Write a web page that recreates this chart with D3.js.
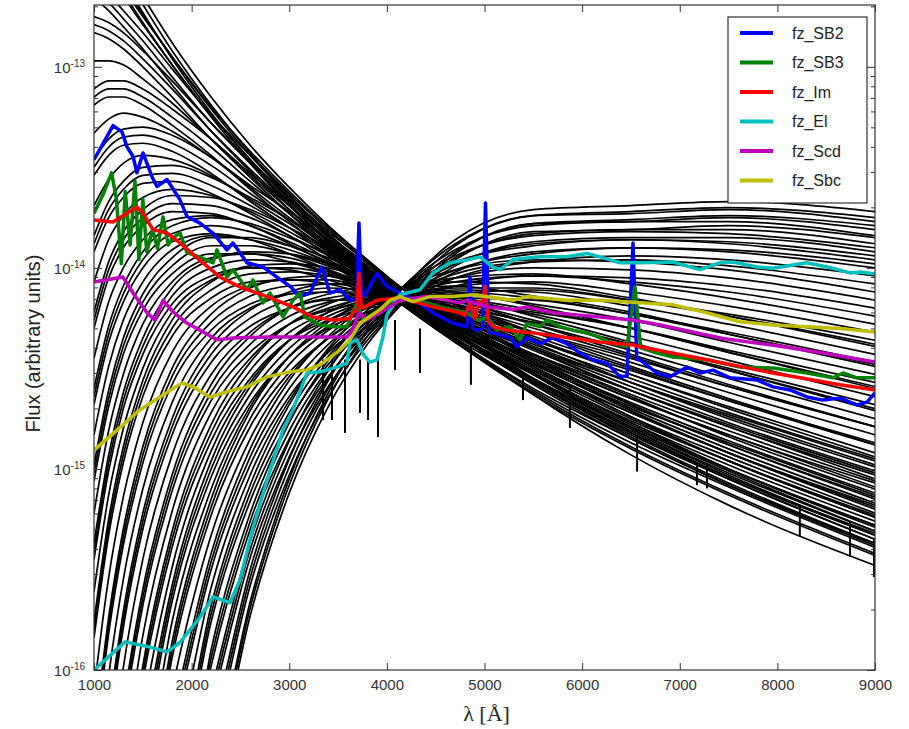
<!DOCTYPE html>
<html>
<head>
<meta charset="utf-8">
<script src="https://cdn.jsdelivr.net/npm/d3@7"></script>
<style>
  body { margin: 0; background: #fff; }
  svg { font-family: "Liberation Sans", Arial, sans-serif; }
  .tick line { stroke: #333; }
  .tick text { fill: #333; }
</style>
</head>
<body>
<script>
// axes
var xTicks = [1000, 2000, 3000, 4000, 5000, 6000, 7000, 8000, 9000];
var yDecades = [1e-16, 1e-15, 1e-14, 1e-13];
var yDecadeExp = ["-16", "-15", "-14", "-13"];

// stellar library spectra, hot to cool: log10(flux) sampled at starWave
var starWave = [1000, 1150, 1300, 1500, 1800, 2200, 2600, 3000, 3400, 3800, 4150, 4700, 5500, 6500, 7500, 9000];
var starLogFlux = [
  [-12.31, -12.44, -12.57, -12.73, -12.96, -13.23, -13.47, -13.68, -13.87, -14.04, -14.18, -14.37, -14.63, -14.90, -15.13, -15.43],
  [-12.23, -12.36, -12.49, -12.65, -12.88, -13.15, -13.39, -13.60, -13.79, -13.96, -14.10, -14.29, -14.55, -14.82, -15.05, -15.35],
  [-12.27, -12.40, -12.53, -12.69, -12.92, -13.19, -13.43, -13.64, -13.83, -14.00, -14.14, -14.35, -14.63, -14.93, -15.18, -15.48],
  [-12.36, -12.47, -12.59, -12.74, -12.95, -13.21, -13.44, -13.65, -13.83, -14.00, -14.14, -14.33, -14.58, -14.85, -15.08, -15.38],
  [-12.40, -12.51, -12.63, -12.78, -12.99, -13.25, -13.48, -13.69, -13.87, -14.04, -14.18, -14.37, -14.62, -14.89, -15.12, -15.42],
  [-12.46, -12.55, -12.65, -12.79, -12.99, -13.24, -13.46, -13.66, -13.84, -14.00, -14.14, -14.33, -14.57, -14.84, -15.07, -15.37],
  [-12.42, -12.51, -12.61, -12.75, -12.95, -13.20, -13.42, -13.62, -13.80, -13.96, -14.10, -14.29, -14.53, -14.80, -15.03, -15.33],
  [-12.66, -12.72, -12.80, -12.91, -13.09, -13.32, -13.52, -13.71, -13.89, -14.05, -14.18, -14.36, -14.61, -14.87, -15.09, -15.39],
  [-12.62, -12.68, -12.76, -12.87, -13.05, -13.28, -13.48, -13.67, -13.85, -14.01, -14.14, -14.32, -14.57, -14.83, -15.05, -15.35],
  [-12.58, -12.64, -12.72, -12.83, -13.01, -13.24, -13.44, -13.63, -13.81, -13.97, -14.10, -14.28, -14.53, -14.79, -15.01, -15.31],
  [-12.83, -12.86, -12.91, -13.00, -13.15, -13.36, -13.55, -13.73, -13.90, -14.05, -14.18, -14.36, -14.60, -14.85, -15.08, -15.37],
  [-12.79, -12.82, -12.87, -12.96, -13.11, -13.32, -13.51, -13.69, -13.86, -14.01, -14.14, -14.32, -14.56, -14.81, -15.04, -15.33],
  [-12.75, -12.78, -12.83, -12.92, -13.07, -13.28, -13.47, -13.65, -13.82, -13.97, -14.10, -14.28, -14.52, -14.77, -15.00, -15.29],
  [-12.97, -12.97, -12.99, -13.06, -13.18, -13.36, -13.54, -13.71, -13.87, -14.02, -14.14, -14.32, -14.55, -14.80, -15.02, -15.31],
  [-13.19, -13.15, -13.15, -13.19, -13.29, -13.44, -13.61, -13.77, -13.92, -14.06, -14.18, -14.35, -14.57, -14.82, -15.04, -15.32],
  [-13.15, -13.11, -13.11, -13.15, -13.25, -13.40, -13.57, -13.73, -13.88, -14.02, -14.14, -14.31, -14.53, -14.78, -15.00, -15.28],
  [-13.11, -13.07, -13.07, -13.11, -13.21, -13.36, -13.53, -13.69, -13.84, -13.98, -14.10, -14.27, -14.49, -14.74, -14.96, -15.24],
  [-13.33, -13.26, -13.23, -13.25, -13.32, -13.45, -13.60, -13.75, -13.89, -14.03, -14.14, -14.31, -14.52, -14.77, -14.98, -15.26],
  [-13.54, -13.44, -13.39, -13.38, -13.42, -13.53, -13.67, -13.80, -13.94, -14.07, -14.18, -14.34, -14.55, -14.79, -15.00, -15.28],
  [-13.50, -13.40, -13.35, -13.34, -13.38, -13.49, -13.63, -13.76, -13.90, -14.03, -14.14, -14.30, -14.51, -14.75, -14.96, -15.24],
  [-13.46, -13.36, -13.31, -13.30, -13.34, -13.45, -13.59, -13.72, -13.86, -13.99, -14.10, -14.26, -14.47, -14.71, -14.92, -15.20],
  [-13.69, -13.56, -13.48, -13.44, -13.46, -13.54, -13.66, -13.78, -13.91, -14.04, -14.14, -14.30, -14.50, -14.74, -14.94, -15.22],
  [-13.92, -13.75, -13.65, -13.58, -13.57, -13.63, -13.73, -13.84, -13.96, -14.08, -14.18, -14.33, -14.53, -14.76, -14.96, -15.23],
  [-13.88, -13.71, -13.61, -13.54, -13.53, -13.59, -13.69, -13.80, -13.92, -14.04, -14.14, -14.29, -14.49, -14.72, -14.92, -15.19],
  [-13.84, -13.67, -13.57, -13.50, -13.49, -13.55, -13.65, -13.76, -13.88, -14.00, -14.10, -14.25, -14.45, -14.68, -14.88, -15.15],
  [-14.07, -13.86, -13.74, -13.65, -13.61, -13.64, -13.72, -13.82, -13.93, -14.05, -14.14, -14.29, -14.48, -14.70, -14.90, -15.17],
  [-14.30, -14.05, -13.90, -13.79, -13.72, -13.73, -13.79, -13.88, -13.98, -14.09, -14.18, -14.32, -14.51, -14.72, -14.92, -15.18],
  [-14.26, -14.01, -13.86, -13.75, -13.68, -13.69, -13.75, -13.84, -13.94, -14.05, -14.14, -14.28, -14.47, -14.68, -14.88, -15.14],
  [-14.22, -13.97, -13.82, -13.71, -13.64, -13.65, -13.71, -13.80, -13.90, -14.01, -14.10, -14.24, -14.43, -14.64, -14.84, -15.10],
  [-14.45, -14.17, -14.00, -13.86, -13.76, -13.74, -13.79, -13.87, -13.96, -14.06, -14.14, -14.27, -14.46, -14.67, -14.86, -15.12],
  [-14.68, -14.37, -14.17, -14.00, -13.87, -13.83, -13.86, -13.93, -14.01, -14.10, -14.18, -14.30, -14.48, -14.69, -14.87, -15.13],
  [-14.64, -14.33, -14.13, -13.96, -13.83, -13.79, -13.82, -13.89, -13.97, -14.06, -14.14, -14.26, -14.44, -14.65, -14.83, -15.09],
  [-14.60, -14.29, -14.09, -13.92, -13.79, -13.75, -13.78, -13.85, -13.93, -14.02, -14.10, -14.22, -14.40, -14.61, -14.79, -15.05],
  [-14.83, -14.49, -14.26, -14.07, -13.91, -13.84, -13.86, -13.91, -13.98, -14.07, -14.14, -14.26, -14.43, -14.63, -14.81, -15.06],
  [-15.06, -14.69, -14.43, -14.21, -14.03, -13.93, -13.93, -13.97, -14.03, -14.11, -14.18, -14.29, -14.45, -14.65, -14.83, -15.07],
  [-15.02, -14.65, -14.39, -14.17, -13.99, -13.89, -13.89, -13.93, -13.99, -14.07, -14.14, -14.25, -14.41, -14.61, -14.79, -15.03],
  [-14.98, -14.61, -14.35, -14.13, -13.95, -13.85, -13.85, -13.89, -13.95, -14.03, -14.10, -14.21, -14.37, -14.57, -14.75, -14.99],
  [-15.22, -14.81, -14.53, -14.28, -14.07, -13.95, -13.93, -13.95, -14.01, -14.08, -14.14, -14.25, -14.40, -14.59, -14.77, -15.01],
  [-15.45, -15.01, -14.70, -14.43, -14.18, -14.04, -14.00, -14.01, -14.06, -14.12, -14.18, -14.28, -14.43, -14.61, -14.78, -15.02],
  [-15.41, -14.97, -14.66, -14.39, -14.14, -14.00, -13.96, -13.97, -14.02, -14.08, -14.14, -14.24, -14.39, -14.57, -14.74, -14.98],
  [-15.37, -14.93, -14.62, -14.35, -14.10, -13.96, -13.92, -13.93, -13.98, -14.04, -14.10, -14.20, -14.35, -14.53, -14.70, -14.94],
  [-15.61, -15.13, -14.80, -14.50, -14.22, -14.06, -14.00, -14.00, -14.03, -14.09, -14.14, -14.23, -14.38, -14.55, -14.72, -14.95],
  [-15.84, -15.33, -14.97, -14.64, -14.34, -14.15, -14.07, -14.06, -14.08, -14.13, -14.18, -14.26, -14.40, -14.57, -14.73, -14.96],
  [-15.80, -15.29, -14.93, -14.60, -14.30, -14.11, -14.03, -14.02, -14.04, -14.09, -14.14, -14.22, -14.36, -14.53, -14.69, -14.92],
  [-15.76, -15.25, -14.89, -14.56, -14.26, -14.07, -13.99, -13.98, -14.00, -14.05, -14.10, -14.18, -14.32, -14.49, -14.65, -14.88],
  [-16.10, -15.54, -15.14, -14.77, -14.42, -14.19, -14.09, -14.06, -14.06, -14.10, -14.14, -14.21, -14.34, -14.50, -14.66, -14.88],
  [-16.43, -15.82, -15.38, -14.97, -14.58, -14.31, -14.18, -14.13, -14.12, -14.14, -14.18, -14.24, -14.36, -14.51, -14.66, -14.87],
  [-16.39, -15.78, -15.34, -14.93, -14.54, -14.27, -14.14, -14.09, -14.08, -14.10, -14.14, -14.20, -14.32, -14.47, -14.62, -14.83],
  [-16.35, -15.74, -15.30, -14.89, -14.50, -14.23, -14.10, -14.05, -14.04, -14.06, -14.10, -14.16, -14.28, -14.43, -14.58, -14.79],
  [-16.69, -16.03, -15.55, -15.10, -14.67, -14.35, -14.20, -14.13, -14.10, -14.11, -14.14, -14.19, -14.30, -14.44, -14.59, -14.79],
  [-17.00, -16.31, -15.79, -15.30, -14.83, -14.47, -14.29, -14.20, -14.16, -14.16, -14.18, -14.22, -14.32, -14.45, -14.59, -14.79],
  [-16.98, -16.27, -15.75, -15.26, -14.79, -14.43, -14.25, -14.16, -14.12, -14.12, -14.14, -14.18, -14.28, -14.41, -14.55, -14.75],
  [-16.94, -16.23, -15.71, -15.22, -14.75, -14.39, -14.21, -14.12, -14.08, -14.08, -14.10, -14.14, -14.24, -14.37, -14.51, -14.71],
  [-17.00, -16.55, -15.99, -15.45, -14.93, -14.53, -14.32, -14.20, -14.15, -14.13, -14.14, -14.17, -14.26, -14.38, -14.51, -14.70],
  [-17.00, -16.87, -16.26, -15.68, -15.11, -14.66, -14.42, -14.28, -14.21, -14.18, -14.18, -14.20, -14.27, -14.38, -14.50, -14.68],
  [-17.00, -16.83, -16.22, -15.64, -15.07, -14.62, -14.38, -14.24, -14.17, -14.14, -14.14, -14.16, -14.23, -14.34, -14.46, -14.64],
  [-17.00, -16.79, -16.18, -15.60, -15.03, -14.58, -14.34, -14.20, -14.13, -14.10, -14.10, -14.12, -14.19, -14.30, -14.42, -14.60],
  [-17.00, -16.92, -16.46, -15.83, -15.21, -14.72, -14.45, -14.28, -14.20, -14.15, -14.14, -14.15, -14.21, -14.30, -14.42, -14.59],
  [-17.00, -17.00, -16.74, -16.06, -15.39, -14.86, -14.55, -14.36, -14.26, -14.20, -14.18, -14.17, -14.22, -14.30, -14.41, -14.57],
  [-17.00, -17.00, -16.70, -16.02, -15.35, -14.82, -14.51, -14.32, -14.22, -14.16, -14.14, -14.13, -14.18, -14.26, -14.37, -14.53],
  [-17.00, -17.00, -16.66, -15.98, -15.31, -14.78, -14.47, -14.28, -14.18, -14.12, -14.10, -14.09, -14.14, -14.22, -14.33, -14.49],
  [-17.00, -17.00, -16.85, -16.21, -15.49, -14.91, -14.57, -14.36, -14.24, -14.17, -14.14, -14.12, -14.15, -14.23, -14.33, -14.48],
  [-17.00, -17.00, -17.00, -16.43, -15.66, -15.04, -14.67, -14.44, -14.30, -14.22, -14.18, -14.15, -14.16, -14.23, -14.32, -14.47],
  [-17.00, -17.00, -17.00, -16.39, -15.62, -15.00, -14.63, -14.40, -14.26, -14.18, -14.14, -14.11, -14.12, -14.19, -14.28, -14.43],
  [-17.00, -17.00, -17.00, -16.35, -15.58, -14.96, -14.59, -14.36, -14.22, -14.14, -14.10, -14.07, -14.08, -14.15, -14.24, -14.39],
  [-17.00, -17.00, -17.00, -16.58, -15.76, -15.10, -14.69, -14.44, -14.29, -14.19, -14.14, -14.10, -14.10, -14.16, -14.24, -14.38],
  [-17.00, -17.00, -17.00, -16.80, -15.94, -15.23, -14.79, -14.52, -14.35, -14.24, -14.18, -14.13, -14.11, -14.16, -14.23, -14.36],
  [-17.00, -17.00, -17.00, -16.76, -15.90, -15.19, -14.75, -14.48, -14.31, -14.20, -14.14, -14.09, -14.07, -14.12, -14.19, -14.32],
  [-17.00, -17.00, -17.00, -16.72, -15.86, -15.15, -14.71, -14.44, -14.27, -14.16, -14.10, -14.05, -14.03, -14.08, -14.15, -14.28],
  [-17.00, -17.00, -17.00, -16.88, -16.10, -15.33, -14.85, -14.54, -14.35, -14.22, -14.14, -14.07, -14.04, -14.07, -14.12, -14.24],
  [-17.00, -17.00, -17.00, -17.00, -16.33, -15.50, -14.98, -14.64, -14.42, -14.27, -14.18, -14.09, -14.04, -14.05, -14.09, -14.20],
  [-17.00, -17.00, -17.00, -17.00, -16.29, -15.46, -14.94, -14.60, -14.38, -14.23, -14.14, -14.05, -14.00, -14.01, -14.05, -14.16],
  [-17.00, -17.00, -17.00, -17.00, -16.25, -15.42, -14.90, -14.56, -14.34, -14.19, -14.10, -14.01, -13.96, -13.97, -14.01, -14.12],
  [-17.00, -17.00, -17.00, -17.00, -16.49, -15.59, -15.03, -14.66, -14.41, -14.24, -14.14, -14.03, -13.97, -13.96, -13.99, -14.08],
  [-17.00, -17.00, -17.00, -17.00, -16.73, -15.76, -15.16, -14.76, -14.48, -14.29, -14.18, -14.05, -13.97, -13.94, -13.96, -14.04],
  [-17.00, -17.00, -17.00, -17.00, -16.69, -15.72, -15.12, -14.72, -14.44, -14.25, -14.14, -14.01, -13.93, -13.90, -13.92, -14.00],
  [-17.00, -17.00, -17.00, -17.00, -16.65, -15.68, -15.08, -14.68, -14.40, -14.21, -14.10, -13.97, -13.89, -13.86, -13.88, -13.96],
  [-17.00, -17.00, -17.00, -17.00, -17.00, -15.98, -15.30, -14.85, -14.54, -14.32, -14.18, -14.02, -13.92, -13.90, -13.91, -13.98],
  [-17.00, -17.00, -17.00, -17.00, -17.00, -15.94, -15.26, -14.81, -14.50, -14.28, -14.14, -13.98, -13.88, -13.86, -13.87, -13.94],
  [-17.00, -17.00, -17.00, -17.00, -17.00, -15.90, -15.22, -14.77, -14.46, -14.24, -14.10, -13.94, -13.84, -13.82, -13.83, -13.90],
  [-17.00, -17.00, -17.00, -17.00, -17.00, -16.19, -15.44, -14.94, -14.59, -14.34, -14.18, -13.99, -13.87, -13.85, -13.85, -13.92],
  [-17.00, -17.00, -17.00, -17.00, -17.00, -16.15, -15.40, -14.90, -14.55, -14.30, -14.14, -13.95, -13.83, -13.81, -13.81, -13.88],
  [-17.00, -17.00, -17.00, -17.00, -17.00, -16.11, -15.36, -14.86, -14.51, -14.26, -14.10, -13.91, -13.79, -13.77, -13.77, -13.84],
  [-17.00, -17.00, -17.00, -17.00, -17.00, -16.40, -15.58, -15.03, -14.64, -14.36, -14.18, -13.96, -13.82, -13.81, -13.79, -13.85],
  [-17.00, -17.00, -17.00, -17.00, -17.00, -16.36, -15.54, -14.99, -14.60, -14.32, -14.14, -13.92, -13.78, -13.77, -13.75, -13.81],
  [-17.00, -17.00, -17.00, -17.00, -17.00, -16.32, -15.50, -14.95, -14.56, -14.28, -14.10, -13.88, -13.74, -13.73, -13.71, -13.77],
  [-17.00, -17.00, -17.00, -17.00, -17.00, -16.61, -15.73, -15.12, -14.69, -14.38, -14.18, -13.93, -13.78, -13.76, -13.74, -13.79],
  [-17.00, -17.00, -17.00, -17.00, -17.00, -16.57, -15.69, -15.08, -14.65, -14.34, -14.14, -13.89, -13.74, -13.72, -13.70, -13.75],
  [-17.00, -17.00, -17.00, -17.00, -17.00, -16.54, -15.66, -15.05, -14.62, -14.31, -14.11, -13.86, -13.71, -13.69, -13.67, -13.72]
];

// strong absorption lines hanging below the stellar envelope (flux in units of 1e-15)
var absorbWave   = [3346, 3438, 3571, 3725, 3807, 3909, 4083, 4339, 4861, 5394, 5875, 6563, 7176, 7279, 8230, 8744, 8990];
var absorbTop    = [3.5, 3.5, 3.5, 3.5, 3.5, 3.5, 5.5, 5.0, 4.2, 3.0, 2.6, 1.45, 1.05, 1.05, 0.65, 0.55, 0.45];
var absorbBottom = [1.75, 1.75, 1.51, 1.90, 1.75, 1.44, 3.11, 3.0, 2.62, 2.2, 1.6, 0.97, 0.83, 0.80, 0.46, 0.365, 0.29];

// galaxy templates, flux in units of 1e-15
var FLUX_UNIT = 1e-15;

var sb2Wave = [1000,1195,1287,1338,1400,1440,1502,1594,1645,1748,1881,1953,2086,2219,2362,2424,2567,2731,2874,3008,3110,3212,3335,3417,3520,3622,3690,3714,3740,3776,3899,4001,4134,4339,4472,4677,4820,4851,4880,4923,4980,5010,5045,5087,5261,5333,5435,5568,5702,5845,5978,6111,6255,6388,6460,6521,6560,6593,6767,6900,7074,7207,7340,7515,7791,7955,8129,8303,8467,8641,8815,8918,9000];
var sb2Flux = [34.5,51,47.5,40,35.8,29.7,37.3,28.4,25.4,27.5,21.8,18,16.7,14.9,12.3,13.3,10.6,10.1,9.0,8.1,7.2,7.5,10.1,7.5,7.8,6.9,7.0,16.7,7.2,7.3,9.4,8.1,7.5,6.7,5.98,5.3,5.1,9.0,5.0,4.9,5.0,21,4.8,4.75,4.5,4.05,4.5,4.2,4.5,4.2,3.77,3.48,3.36,2.87,2.9,13.3,3.5,3.49,3.0,2.87,3.21,3.0,3.1,2.84,2.77,2.56,2.47,2.28,2.2,2.25,2.08,2.15,2.39];

var sb3Wave = [1000,1100,1180,1230,1280,1320,1370,1420,1460,1500,1540,1600,1650,1707,1760,1800,1881,1953,2086,2219,2260,2362,2424,2567,2628,2731,2803,2936,3038,3110,3161,3315,3448,3591,3694,3755,3899,4062,4250,4411,4544,4820,4882,4954,5025,5128,5261,5364,5435,5568,5640,5773,5906,6050,6183,6316,6460,6541,6600,6767,6931,7279,7617,7955,8303,8570,8672,8815,9000];
var sb3Flux = [18.7,23.6,29.7,22,10.5,24,13,27,11,22,12,15.5,12.5,17.9,13,14,14.9,11.9,11.3,10.6,12.3,9.0,9.8,7.8,8.7,6.7,7.5,5.7,6.9,7.5,5.7,5.2,5.1,5.1,6.7,5.5,6.05,6.9,7.0,6.7,6.4,5.98,5.7,5.5,5.7,4.9,5.1,4.4,5.3,5.1,5.5,5.1,4.9,4.75,4.5,4.2,4.05,8.05,4.0,3.77,3.6,3.49,3.21,3.18,3.0,2.84,3.0,2.84,2.84];

var imWave = [1000,1195,1338,1440,1502,1604,1748,1881,2086,2291,2495,2772,3038,3243,3448,3622,3653,3690,3714,3740,3776,3899,4134,4472,4749,4800,4851,4900,4940,4975,5005,5040,5087,5230,5497,5845,6183,6521,6593,7279,7955,8641,9000];
var imFlux = [17.3,16.9,18.7,20.1,18.7,15.5,14.9,13.3,10.9,9.0,8.05,7.2,6.4,5.7,5.5,5.6,6.0,6.2,9.4,6.3,6.4,6.9,7.1,6.4,5.98,5.8,6.7,5.6,6.8,6.5,8.05,5.4,5.1,4.9,4.75,4.5,4.28,4.14,4.05,3.49,3.0,2.62,2.47];

var elWave = [1000,1318,1574,1748,1881,2086,2219,2393,2495,2629,2772,2936,3038,3182,3315,3489,3591,3622,3694,3760,3827,3899,3960,4001,4134,4339,4472,4647,4820,4954,5087,5159,5292,5568,5845,6050,6183,6388,6593,6931,7207,7412,7545,7791,7955,8303,8570,8744,8846,9000];
var elFlux = [0.1,0.138,0.13,0.123,0.137,0.183,0.231,0.216,0.28,0.51,0.88,1.56,1.97,3.0,3.04,3.21,3.36,4.24,4.39,3.7,3.4,3.49,4.53,5.85,7.35,7.78,9.44,10.6,10.95,11.35,10.1,9.8,11.0,11.35,11.35,11.8,11.35,10.6,10.6,10.7,9.8,10.6,10.7,10.1,9.95,10.6,9.95,9.44,9.55,9.33];

var scdWave = [1000,1297,1400,1543,1625,1707,1809,1953,2086,2260,2424,2772,3110,3448,3591,3653,3714,3796,3930,4134,4411,4749,4820,5025,5292,5435,5702,6183,6521,6800,7000,7443,8000,8500,9000];
var scdFlux = [8.5,9.0,7.5,5.98,5.5,6.9,6.05,5.3,4.9,4.39,4.48,4.53,4.53,4.53,4.53,5.0,5.98,5.5,5.98,6.9,7.2,6.7,6.9,6.4,6.2,6.4,5.98,5.7,5.5,5.2,4.95,4.45,4.1,3.75,3.4];

var sbcWave = [1000,1236,1471,1676,1901,2014,2188,2362,2567,2772,3008,3182,3315,3520,3622,3724,3930,4032,4134,4267,4442,4677,4882,5292,5435,5845,6183,6521,6931,7279,7617,7955,8303,8641,9000];
var sbcFlux = [1.24,1.56,1.97,2.28,2.68,2.56,2.28,2.42,2.56,2.87,3.04,3.11,3.29,3.9,4.39,5.3,6.2,6.9,7.2,6.8,7.2,7.2,7.35,6.9,7.2,6.9,6.9,6.75,6.55,5.98,5.4,5.2,5.1,5.0,4.8];

var templateNames = ["fz_SB2", "fz_SB3", "fz_Im", "fz_El", "fz_Scd", "fz_Sbc"];
var templateColors = ["#0000ff", "#008000", "#ff0000", "#00bfbf", "#bf00bf", "#bfbf00"];
var templateWaves = [sb2Wave, sb3Wave, imWave, elWave, scdWave, sbcWave];
var templateFluxes = [sb2Flux, sb3Flux, imFlux, elFlux, scdFlux, sbcFlux];

// layout
var width = 909, height = 729;
var plot = {left: 94, right: 875, top: 5, bottom: 670};

var svg = d3.select("body").append("svg")
    .attr("width", width)
    .attr("height", height);

var x = d3.scaleLinear()
    .domain([1000, 9000])
    .range([plot.left, plot.right]);

var y = d3.scaleLog()
    .domain([1e-16, 2.03e-13])
    .range([plot.bottom, plot.top]);

svg.append("clipPath").attr("id", "clip")
  .append("rect")
    .attr("x", plot.left).attr("y", plot.top)
    .attr("width", plot.right - plot.left)
    .attr("height", plot.bottom - plot.top);

var lines = svg.append("g").attr("clip-path", "url(#clip)");

// black stellar spectra
var starLine = d3.line()
    .x(function(d, i) { return x(starWave[i]); })
    .y(function(d) { return y(Math.pow(10, d)); })
    .curve(d3.curveMonotoneX);

lines.selectAll(".star")
    .data(starLogFlux)
  .enter().append("path")
    .attr("class", "star")
    .attr("d", starLine)
    .attr("fill", "none")
    .attr("stroke", "#000")
    .attr("stroke-width", 1.7);

lines.selectAll(".absorb")
    .data(absorbWave)
  .enter().append("line")
    .attr("class", "absorb")
    .attr("x1", function(d) { return x(d); })
    .attr("x2", function(d) { return x(d); })
    .attr("y1", function(d, i) { return y(absorbTop[i] * FLUX_UNIT); })
    .attr("y2", function(d, i) { return y(absorbBottom[i] * FLUX_UNIT); })
    .attr("stroke", "#000")
    .attr("stroke-width", 2);

// coloured galaxy templates
var templateLine = d3.line()
    .x(function(d) { return x(d[0]); })
    .y(function(d) { return y(d[1] * FLUX_UNIT); });

templateNames.forEach(function(name, k) {
  lines.append("path")
      .datum(d3.zip(templateWaves[k], templateFluxes[k]))
      .attr("d", templateLine)
      .attr("fill", "none")
      .attr("stroke", templateColors[k])
      .attr("stroke-width", 3.5)
      .attr("stroke-linejoin", "round");
});

// frame
svg.append("rect")
    .attr("x", plot.left).attr("y", plot.top)
    .attr("width", plot.right - plot.left)
    .attr("height", plot.bottom - plot.top)
    .attr("fill", "none")
    .attr("stroke", "#333")
    .attr("stroke-width", 1.2);

// x axes (ticks pointing inwards)
var xBottom = svg.append("g")
    .attr("transform", "translate(0," + plot.bottom + ")")
    .call(d3.axisBottom(x).tickValues(xTicks).tickSize(-7).tickPadding(9).tickFormat(d3.format("d")));
xBottom.select(".domain").remove();
xBottom.selectAll("text").style("font-size", "15px");

var xTop = svg.append("g")
    .attr("transform", "translate(0," + plot.top + ")")
    .call(d3.axisTop(x).tickValues(xTicks).tickSize(-7).tickFormat(""));
xTop.select(".domain").remove();

// y axes: decades plus minor ticks
var yMinor = y.ticks().filter(function(v) { return yDecades.indexOf(v) < 0; });

function yTicks(axisFn, xpos, withLabels) {
  var g = svg.append("g").attr("transform", "translate(" + xpos + ",0)");
  g.call(axisFn(y).tickValues(yMinor).tickSize(-4).tickFormat(""));
  g.select(".domain").remove();
  var gm = svg.append("g").attr("transform", "translate(" + xpos + ",0)");
  gm.call(axisFn(y).tickValues(yDecades).tickSize(-8).tickPadding(9).tickFormat(""));
  gm.select(".domain").remove();
  if (withLabels) {
    gm.selectAll(".tick text").each(function(d, i) {
      var t = d3.select(this).attr("dy", "0.35em").style("font-size", "15px");
      t.append("tspan").text("10");
      t.append("tspan").attr("dy", "-0.55em").style("font-size", "10px").text(yDecadeExp[i]);
    });
  }
}
yTicks(d3.axisLeft, plot.left, true);
yTicks(d3.axisRight, plot.right, false);

// axis titles
svg.append("text")
    .attr("transform", "translate(40," + ((plot.top + plot.bottom) / 2 + 6) + ") rotate(-90)")
    .attr("text-anchor", "middle")
    .style("font-size", "20px")
    .style("fill", "#222")
    .text("Flux (arbitrary units)");

svg.append("text")
    .attr("x", (plot.left + plot.right) / 2 + 2)
    .attr("y", 721)
    .attr("text-anchor", "middle")
    .style("font-family", "'Liberation Serif', 'DejaVu Serif', serif")
    .style("font-size", "22px")
    .style("fill", "#222")
    .text("λ [Å]");

// legend
var legend = svg.append("g");
legend.append("rect")
    .attr("x", 728).attr("y", 17)
    .attr("width", 139).attr("height", 186)
    .attr("fill", "#fff")
    .attr("stroke", "#333")
    .attr("stroke-width", 1.2);

var item = legend.selectAll(".item")
    .data(templateNames)
  .enter().append("g")
    .attr("class", "item")
    .attr("transform", function(d, i) { return "translate(0," + (33 + i * 29.5) + ")"; });

item.append("line")
    .attr("x1", 740).attr("x2", 773)
    .attr("stroke", function(d, i) { return templateColors[i]; })
    .attr("stroke-width", 4);

item.append("text")
    .attr("x", 792)
    .attr("dy", "0.35em")
    .style("font-size", "16px")
    .style("fill", "#222")
    .text(function(d) { return d; });
</script>
</body>
</html>
